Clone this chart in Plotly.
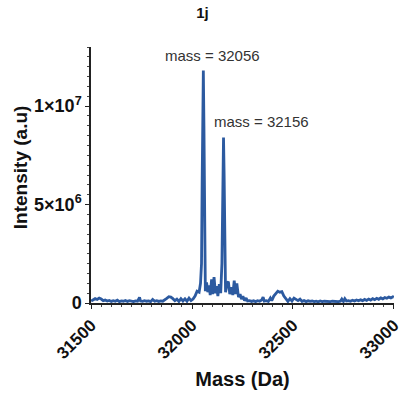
import plotly.graph_objects as go

# Deconvoluted mass spectrum of sample 1j
mass_da = [
    31500, 31510, 31520, 31530, 31540, 31550, 31560, 31570, 31580, 31590,
    31600, 31610, 31620, 31630, 31640, 31650, 31660, 31670, 31680, 31690,
    31700, 31710, 31720, 31730, 31740, 31745, 31755, 31765, 31775, 31785,
    31795, 31805, 31815, 31825, 31835, 31845, 31855, 31865, 31875, 31885,
    31895, 31905, 31915, 31925, 31935, 31945, 31955, 31965, 31975, 31985,
    31995, 32005, 32015, 32025, 32035, 32042, 32047, 32050, 32053, 32056,
    32059, 32062, 32066, 32072, 32078, 32085, 32090, 32097, 32102, 32109,
    32116, 32122, 32128, 32135, 32142, 32148, 32151, 32154, 32156, 32159,
    32162, 32166, 32173, 32180, 32187, 32195, 32202, 32209, 32216, 32222,
    32230, 32238, 32245, 32252, 32260, 32268, 32275, 32285, 32295, 32305,
    32315, 32325, 32335, 32345, 32352, 32358, 32368, 32378, 32388, 32395,
    32405, 32415, 32425, 32435, 32445, 32455, 32465, 32475, 32485, 32495,
    32505, 32515, 32525, 32535, 32545, 32555, 32565, 32575, 32585, 32595,
    32605, 32615, 32625, 32635, 32645, 32655, 32665, 32675, 32685, 32695,
    32705, 32715, 32725, 32735, 32742, 32750, 32757, 32765, 32775, 32785,
    32795, 32805, 32815, 32825, 32835, 32845, 32855, 32865, 32875, 32885,
    32895, 32905, 32915, 32925, 32935, 32945, 32955, 32965, 32975, 32985,
    32995, 33000,
]

# Intensity in units of 1e6 counts
intensity_1e6 = [
    0.10, 0.15, 0.22, 0.18, 0.25, 0.20, 0.12, 0.15, 0.10, 0.13,
    0.08, 0.12, 0.09, 0.14, 0.07, 0.11, 0.09, 0.13, 0.08, 0.12,
    0.10, 0.07, 0.11, 0.09, 0.28, 0.10, 0.08, 0.12, 0.09, 0.11,
    0.07, 0.18, 0.09, 0.12, 0.08, 0.11, 0.09, 0.15, 0.24, 0.32,
    0.30, 0.22, 0.12, 0.20, 0.08, 0.22, 0.10, 0.21, 0.09, 0.25,
    0.12, 0.20, 0.35, 0.60, 0.55, 1.00, 2.00, 6.00, 11.0, 11.8,
    9.00, 3.00, 0.60, 1.05, 0.55, 0.90, 0.40, 1.20, 0.45, 1.31,
    0.50, 0.85, 0.35, 0.95, 0.50, 2.00, 5.00, 8.00, 8.40, 6.50,
    2.00, 0.55, 1.00, 1.09, 0.45, 0.80, 0.40, 1.14, 0.45, 1.00,
    0.30, 0.45, 0.20, 0.35, 0.12, 0.25, 0.10, 0.12, 0.08, 0.11,
    0.07, 0.12, 0.09, 0.15, 0.30, 0.10, 0.12, 0.08, 0.25, 0.12,
    0.35, 0.50, 0.60, 0.55, 0.58, 0.35, 0.20, 0.08, 0.22, 0.10,
    0.25, 0.18, 0.12, 0.20, 0.08, 0.12, 0.07, 0.11, 0.08, 0.10,
    0.07, 0.09, 0.06, 0.10, 0.07, 0.09, 0.08, 0.10, 0.07, 0.09,
    0.08, 0.10, 0.07, 0.09, 0.20, 0.08, 0.22, 0.10, 0.12, 0.09,
    0.14, 0.10, 0.15, 0.11, 0.16, 0.12, 0.18, 0.13, 0.20, 0.15,
    0.22, 0.17, 0.24, 0.19, 0.26, 0.21, 0.28, 0.24, 0.30, 0.26,
    0.32, 0.30,
]

peak_masses = [32056, 32156]
peak_label_pos = [(32100, 12.55), (32346, 9.23)]

y_tick_vals = [0, 5e6, 1e7]
y_tick_text = ["<b>0</b>", "<b>5×10<sup>6</sup></b>", "<b>1×10<sup>7</sup></b>"]
x_tick_vals = [31500, 32000, 32500, 33000]
x_tick_text = ["<b>%d</b>" % v for v in x_tick_vals]

intensity = [v * 1e6 for v in intensity_1e6]

fig = go.Figure()
fig.add_trace(go.Scatter(
    x=mass_da, y=intensity, mode="lines",
    line=dict(color="#2c5aa0", width=2.8),
    showlegend=False, hoverinfo="skip",
))

for m, (lx, ly) in zip(peak_masses, peak_label_pos):
    fig.add_annotation(
        x=lx, y=ly * 1e6, xref="x", yref="y",
        text="mass = %d" % m, showarrow=False,
        font=dict(family="Arial, Liberation Sans, sans-serif", size=15, color="#333333"),
    )

# Vertical axis title, placed as a rotated annotation left of the tick labels
fig.add_annotation(
    x=-0.234, y=0.531, xref="paper", yref="paper",
    text="<b>Intensity (a.u)</b>", textangle=-90, showarrow=False,
    xanchor="center", yanchor="middle",
    font=dict(family="Arial, Liberation Sans, sans-serif", size=19, color="#111111"),
)

fig.update_layout(
    width=401, height=402,
    margin=dict(l=91, r=7, t=47, b=99, autoexpand=False),
    paper_bgcolor="white", plot_bgcolor="white",
    font=dict(family="Arial, Liberation Sans, sans-serif", color="#111111"),
    title=dict(text="<b>1j</b>", x=0.505, xanchor="center", y=0.968, yanchor="middle",
               font=dict(size=15, color="#111111")),
    xaxis=dict(
        range=[31499.5, 33000.5], showgrid=False, zeroline=False, automargin=False,
        showline=True, linecolor="#222222", linewidth=1.5,
        ticks="outside", ticklen=4, tickwidth=1.2, tickcolor="#222222",
        tickmode="array", tickvals=x_tick_vals, ticktext=x_tick_text, tickangle=-45,
        tickfont=dict(size=17, color="#111111"), ticklabeloverflow="allow",
        minor=dict(ticks="outside", ticklen=2.5, tickwidth=1, tickcolor="#444444",
                   tickvals=[31500 + i * 50 for i in range(31)]),
        title=dict(text="<b>Mass (Da)</b>", font=dict(size=20, color="#111111"), standoff=10),
    ),
    yaxis=dict(
        range=[0, 1.3e7], showgrid=False, zeroline=False, automargin=False,
        showline=True, linecolor="#222222", linewidth=1.5,
        ticks="outside", ticklen=4, tickwidth=1.2, tickcolor="#222222",
        tickmode="array", tickvals=y_tick_vals, ticktext=y_tick_text,
        tickfont=dict(size=18, color="#111111"), ticklabeloverflow="allow",
        minor=dict(ticks="outside", ticklen=2.5, tickwidth=1, tickcolor="#444444",
                   tickvals=[i * 5e5 for i in range(27)]),
    ),
)

fig.write_html("out.html")
